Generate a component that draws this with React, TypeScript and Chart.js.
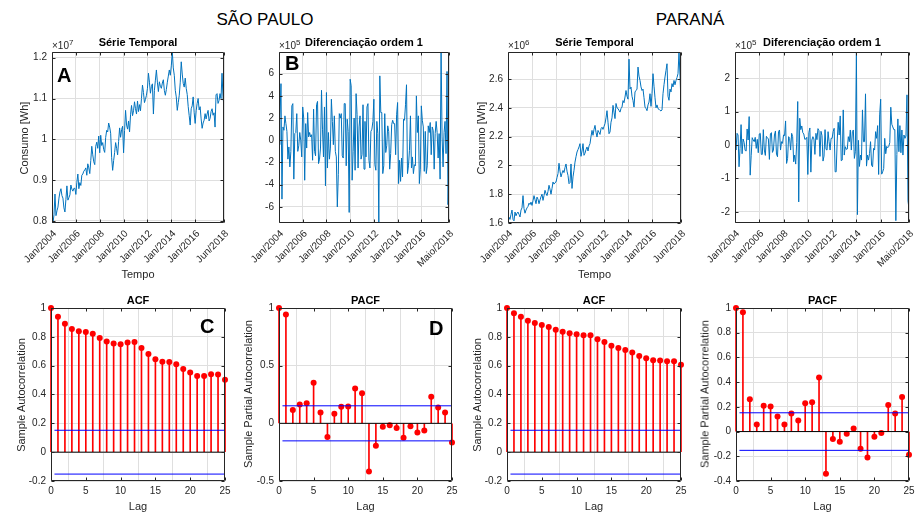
import React, { useEffect, useRef } from "react";
import { Chart, registerables } from "chart.js";

Chart.register(...registerables);

const FONT = "'Liberation Sans', Arial, Helvetica, sans-serif";
const INK = "#262626";
const GRID = "#DFDFDF";
const TS_BLUE = "#0072BD";
const STEM_RED = "#FF0000";
const BOUND_BLUE = "#0000FF";

// ---------------- DATA ----------------
// São Paulo monthly consumption, Jan/2004 .. Jun/2018, in units of 10^7 Wh
const spConsumo = [
  0.799, 0.795, 0.815, 0.866, 0.813, 0.825, 0.834, 0.856, 0.871, 0.879, 0.862, 0.856,
  0.832, 0.822, 0.853, 0.886, 0.851, 0.857, 0.864, 0.888, 0.878, 0.873, 0.880, 0.880,
  0.865, 0.895, 0.915, 0.879, 0.894, 0.887, 0.912, 0.915, 0.922, 0.925, 0.930, 0.912,
  0.940, 0.930, 0.916, 0.948, 0.983, 0.962, 0.945, 0.938, 0.983, 0.993, 0.978, 1.008,
  0.967, 1.010, 0.985, 0.992, 0.975, 0.968, 1.005, 1.022, 1.018, 1.040, 1.030, 1.015,
  0.955, 0.924, 0.948, 0.968, 0.992, 0.978, 0.962, 0.995, 1.028, 1.005, 1.024, 1.032,
  0.967, 1.022, 1.071, 1.035, 1.025, 1.045, 1.018, 1.060, 1.083, 1.058, 1.070, 1.092,
  1.075, 1.062, 1.094, 1.068, 1.085, 1.070, 1.100, 1.133, 1.115, 1.090, 1.098, 1.108,
  1.125, 1.162, 1.140, 1.113, 1.130, 1.136, 1.062, 1.120, 1.145, 1.170, 1.140, 1.117,
  1.141, 1.130, 1.125, 1.138, 1.146, 1.120, 1.108, 1.122, 1.140, 1.155, 1.170, 1.157,
  1.180, 1.214, 1.175, 1.157, 1.120, 1.104, 1.071, 1.090, 1.108, 1.140, 1.190, 1.160,
  1.137, 1.128, 1.150, 1.125, 1.110, 1.080, 1.058, 1.035, 1.075, 1.082, 1.104, 1.065,
  1.039, 1.070, 1.088, 1.100, 1.072, 1.080, 1.050, 1.027, 1.040, 1.047, 1.063, 1.050,
  1.062, 1.071, 1.045, 1.051, 1.068, 1.075, 1.059, 1.065, 1.030, 1.109, 1.112, 1.088,
  1.095, 1.112, 1.100, 1.162, 1.104, 1.080,
];

// Paraná monthly consumption, Jan/2004 .. Jun/2018, in units of 10^6 Wh
const prConsumo = [
  1.600, 1.640, 1.625, 1.660, 1.690, 1.625, 1.615, 1.676, 1.650, 1.668, 1.676, 1.660,
  1.642, 1.690, 1.705, 1.790, 1.700, 1.668, 1.690, 1.705, 1.715, 1.738, 1.728, 1.745,
  1.722, 1.755, 1.790, 1.762, 1.734, 1.780, 1.765, 1.734, 1.760, 1.782, 1.800, 1.757,
  1.790, 1.827, 1.805, 1.790, 1.820, 1.862, 1.835, 1.800, 1.840, 1.885, 1.870, 1.880,
  1.885, 1.915, 1.943, 2.015, 1.960, 1.920, 1.945, 1.965, 1.950, 1.985, 2.010, 1.960,
  1.930, 1.873, 1.880, 2.010, 1.840, 1.920, 1.966, 2.023, 2.060, 2.093, 2.110, 2.128,
  2.151, 2.063, 2.100, 2.151, 2.070, 2.085, 2.110, 2.128, 2.100, 2.135, 2.151, 2.200,
  2.243, 2.209, 2.250, 2.278, 2.230, 2.197, 2.243, 2.230, 2.215, 2.255, 2.265, 2.250,
  2.270, 2.290, 2.330, 2.380, 2.300, 2.220, 2.232, 2.300, 2.330, 2.417, 2.370, 2.325,
  2.430, 2.400, 2.395, 2.382, 2.370, 2.395, 2.405, 2.450, 2.435, 2.475, 2.520, 2.480,
  2.460, 2.738, 2.530, 2.544, 2.480, 2.450, 2.405, 2.510, 2.520, 2.530, 2.683, 2.620,
  2.590, 2.545, 2.520, 2.530, 2.470, 2.405, 2.395, 2.380, 2.420, 2.440, 2.498, 2.410,
  2.500, 2.637, 2.550, 2.470, 2.400, 2.420, 2.394, 2.390, 2.382, 2.378, 2.385, 2.498,
  2.560, 2.614, 2.660, 2.706, 2.480, 2.452, 2.530, 2.510, 2.568, 2.545, 2.590, 2.560,
  2.590, 2.610, 2.637, 2.787, 2.620, 2.429,
];

// first-order differences (units of 10^5 Wh), Jan/2004 .. Maio/2018
const spDiferenca = spConsumo.slice(1).map((v, i) => +((v - spConsumo[i]) * 100).toFixed(3));
const prDiferenca = prConsumo.slice(1).map((v, i) => +((v - prConsumo[i]) * 10).toFixed(3));

// sample ACF / PACF, lags 0..25
const spAcf = [1, 0.94, 0.891, 0.854, 0.838, 0.834, 0.822, 0.792, 0.767, 0.753, 0.748, 0.76, 0.764, 0.723, 0.681, 0.644, 0.628, 0.626, 0.61, 0.577, 0.552, 0.529, 0.529, 0.54, 0.538, 0.503];
const spPacf = [1, 0.943, 0.115, 0.164, 0.175, 0.351, 0.095, -0.118, 0.083, 0.144, 0.147, 0.302, 0.261, -0.417, -0.195, -0.029, -0.017, -0.04, -0.124, -0.026, -0.08, -0.063, 0.23, 0.138, 0.095, -0.167];
const prAcf = [1, 0.963, 0.94, 0.912, 0.896, 0.882, 0.868, 0.85, 0.836, 0.824, 0.818, 0.811, 0.811, 0.783, 0.764, 0.739, 0.723, 0.709, 0.691, 0.667, 0.651, 0.637, 0.635, 0.63, 0.63, 0.607];
const prPacf = [1, 0.965, 0.262, 0.058, 0.208, 0.203, 0.122, 0.058, 0.146, 0.09, 0.23, 0.238, 0.437, -0.341, -0.061, -0.082, -0.018, 0.025, -0.139, -0.209, -0.042, -0.012, 0.216, 0.146, 0.279, -0.187];
const confBound = [0.152, -0.152];

// tick positions / labels
const tempoTicks = [0, 24, 48, 72, 96, 120, 144, 173];
const tempoLabels = ["Jan/2004", "Jan/2006", "Jan/2008", "Jan/2010", "Jan/2012", "Jan/2014", "Jan/2016", "Jun/2018"];
const difTicks = [0, 24, 48, 72, 96, 120, 144, 172];
const difLabels = ["Jan/2004", "Jan/2006", "Jan/2008", "Jan/2010", "Jan/2012", "Jan/2014", "Jan/2016", "Maio/2018"];
const spLevelTicks = [0.8, 0.9, 1, 1.1, 1.2];
const spDifTicks = [-6, -4, -2, 0, 2, 4, 6];
const prLevelTicks = [1.6, 1.8, 2, 2.2, 2.4, 2.6];
const prDifTicks = [-2, -1, 0, 1, 2];
const acfTicks = [-0.2, 0, 0.2, 0.4, 0.6, 0.8, 1];
const spPacfTicks = [-0.5, 0, 0.5, 1];
const prPacfTicks = [-0.4, -0.2, 0, 0.2, 0.4, 0.6, 0.8, 1];
const lagTicks = [0, 5, 10, 15, 20, 25];

// ---------------- CHART HELPERS ----------------
const PAD_L = 50;
const PAD_R = 6;
const PAD_T = 6;

const fmt = (v: number) => String(Math.round(v * 100) / 100);

const matlabAxes = {
  id: "matlabAxes",
  afterDatasetsDraw(chart: any) {
    const { ctx, chartArea: a, scales } = chart;
    ctx.save();
    ctx.strokeStyle = INK;
    ctx.lineWidth = 1;
    const L = Math.round(a.left) + 0.5;
    const R = Math.round(a.right) - 0.5;
    const T = Math.round(a.top) + 0.5;
    const B = Math.round(a.bottom) - 0.5;
    ctx.beginPath();
    ctx.rect(L, T, R - L, B - T);
    const tl = 3;
    scales.x.ticks.forEach((t: any) => {
      const px = Math.round(scales.x.getPixelForValue(t.value)) + 0.5;
      ctx.moveTo(px, B);
      ctx.lineTo(px, B - tl);
      ctx.moveTo(px, T);
      ctx.lineTo(px, T + tl);
    });
    scales.y.ticks.forEach((t: any) => {
      const py = Math.round(scales.y.getPixelForValue(t.value)) + 0.5;
      ctx.moveTo(L, py);
      ctx.lineTo(L + tl, py);
      ctx.moveTo(R, py);
      ctx.lineTo(R - tl, py);
    });
    ctx.stroke();
    ctx.restore();
  },
};

type AxisSpec = { min: number; max: number; ticks: number[]; labels?: string[] };

function makeConfig(datasets: any[], x: AxisSpec, y: AxisSpec, padB: number, rotate: number, xPad: number, xOff: number) {
  const xLabel = (v: number) => (x.labels ? x.labels[x.ticks.indexOf(v)] ?? "" : fmt(v));
  return {
    type: "line",
    data: { datasets },
    plugins: [matlabAxes],
    options: {
      animation: false,
      responsive: false,
      devicePixelRatio: 1,
      events: [],
      layout: { padding: { left: 0, right: PAD_R, top: PAD_T, bottom: 0 } },
      plugins: { legend: { display: false }, title: { display: false }, tooltip: { enabled: false } },
      scales: {
        x: {
          type: "linear",
          min: x.min,
          max: x.max,
          offset: false,
          grid: { color: GRID, lineWidth: 1, drawTicks: false },
          border: { display: false },
          ticks: {
            autoSkip: false,
            minRotation: rotate,
            maxRotation: rotate,
            padding: xPad,
            labelOffset: xOff,
            color: INK,
            font: { family: FONT, size: 10 },
            callback: (v: any) => xLabel(Number(v)),
          },
          afterBuildTicks: (s: any) => {
            s.ticks = x.ticks.map((value) => ({ value }));
          },
          afterFit: (s: any) => {
            s.height = padB;
            s.paddingLeft = 0;
            s.paddingRight = 0;
          },
        },
        y: {
          type: "linear",
          min: y.min,
          max: y.max,
          grid: { color: GRID, lineWidth: 1, drawTicks: false },
          border: { display: false },
          ticks: {
            padding: 5,
            color: INK,
            font: { family: FONT, size: 10 },
            callback: (v: any) => fmt(Number(v)),
          },
          afterBuildTicks: (s: any) => {
            s.ticks = y.ticks.map((value) => ({ value }));
          },
          afterFit: (s: any) => {
            s.width = PAD_L;
            s.paddingTop = 0;
            s.paddingBottom = 0;
          },
        },
      },
    },
  };
}

function seriesSet(values: number[]) {
  return [
    {
      type: "line",
      data: values.map((v, i) => ({ x: i, y: v })),
      borderColor: TS_BLUE,
      borderWidth: 1,
      pointRadius: 0,
      tension: 0,
    },
  ];
}

function stemSet(values: number[]) {
  const pts = values.map((v, i) => ({ x: i, y: v }));
  const last = values.length - 1;
  return [
    { type: "line", data: [{ x: 0.5, y: confBound[0] }, { x: last, y: confBound[0] }], borderColor: BOUND_BLUE, borderWidth: 1, pointRadius: 0 },
    { type: "line", data: [{ x: 0.5, y: confBound[1] }, { x: last, y: confBound[1] }], borderColor: BOUND_BLUE, borderWidth: 1, pointRadius: 0 },
    { type: "line", data: [{ x: 0, y: 0 }, { x: last, y: 0 }], borderColor: "#000000", borderWidth: 1, pointRadius: 0 },
    {
      type: "line",
      data: pts,
      showLine: false,
      pointRadius: 3,
      pointBackgroundColor: STEM_RED,
      pointBorderColor: STEM_RED,
      pointBorderWidth: 0,
      clip: false,
    },
    { type: "bar", data: pts, backgroundColor: STEM_RED, barThickness: 1, borderWidth: 0, clip: false },
  ];
}

type PanelProps = { left: number; top: number; width: number; height: number; padB: number; build: () => any };

function ChartPanel({ left, top, width, height, padB, build }: PanelProps) {
  const ref = useRef<HTMLCanvasElement | null>(null);
  const W = width + PAD_L + PAD_R;
  const H = height + PAD_T + padB;
  useEffect(() => {
    if (!ref.current) return;
    const chart = new Chart(ref.current, build() as any);
    return () => chart.destroy();
  }, []);
  return (
    <canvas
      ref={ref}
      width={W}
      height={H}
      style={{ position: "absolute", left: left - PAD_L, top: top - PAD_T, width: W, height: H }}
    />
  );
}

function Txt({ x, y, text, size = 11, bold = false, rot = false, color = INK }: any) {
  return (
    <div
      style={{
        position: "absolute",
        left: x,
        top: y,
        transform: `translate(-50%, -50%)${rot ? " rotate(-90deg)" : ""}`,
        whiteSpace: "nowrap",
        fontSize: size,
        fontWeight: bold ? 700 : 400,
        lineHeight: 1,
        color,
      }}
    >
      {text}
    </div>
  );
}

function Expo({ x, n }: { x: number; n: string }) {
  return (
    <div style={{ position: "absolute", left: x, top: 40.5, fontSize: 10, lineHeight: "10px", color: INK, whiteSpace: "nowrap" }}>
      {"\u00D710"}
      <span style={{ fontSize: 8, position: "relative", top: -3.5 }}>{n}</span>
    </div>
  );
}

function Letter({ x, y, t }: { x: number; y: number; t: string }) {
  return (
    <div style={{ position: "absolute", left: x, top: y, fontSize: 20, fontWeight: 700, lineHeight: 1, color: "#000" }}>{t}</div>
  );
}

export default function App() {
  const TOP_Y = 52;
  const TOP_H = 171;
  const BOT_Y = 308;
  const BOT_H = 173;
  const TOP_PADB = 56;
  const BOT_PADB = 22;

  const panels: PanelProps[] = [
    {
      left: 52, top: TOP_Y, width: 172, height: TOP_H, padB: TOP_PADB,
      build: () => makeConfig(seriesSet(spConsumo), { min: 0, max: 173, ticks: tempoTicks, labels: tempoLabels }, { min: 0.795, max: 1.214, ticks: spLevelTicks }, TOP_PADB, 45, 5, 3),
    },
    {
      left: 279, top: TOP_Y, width: 170, height: TOP_H, padB: TOP_PADB,
      build: () => makeConfig(seriesSet(spDiferenca), { min: 0, max: 172, ticks: difTicks, labels: difLabels }, { min: -7.45, max: 7.95, ticks: spDifTicks }, TOP_PADB, 45, 5, 3),
    },
    {
      left: 508, top: TOP_Y, width: 173, height: TOP_H, padB: TOP_PADB,
      build: () => makeConfig(seriesSet(prConsumo), { min: 0, max: 173, ticks: tempoTicks, labels: tempoLabels }, { min: 1.6, max: 2.7875, ticks: prLevelTicks }, TOP_PADB, 45, 5, 3),
    },
    {
      left: 735, top: TOP_Y, width: 174, height: TOP_H, padB: TOP_PADB,
      build: () => makeConfig(seriesSet(prDiferenca), { min: 0, max: 172, ticks: difTicks, labels: difLabels }, { min: -2.33, max: 2.78, ticks: prDifTicks }, TOP_PADB, 45, 5, 3),
    },
    {
      left: 51, top: BOT_Y, width: 174, height: BOT_H, padB: BOT_PADB,
      build: () => makeConfig(stemSet(spAcf), { min: 0, max: 25, ticks: lagTicks }, { min: -0.2, max: 1, ticks: acfTicks }, BOT_PADB, 0, 4, 0),
    },
    {
      left: 279, top: BOT_Y, width: 173, height: BOT_H, padB: BOT_PADB,
      build: () => makeConfig(stemSet(spPacf), { min: 0, max: 25, ticks: lagTicks }, { min: -0.5, max: 1, ticks: spPacfTicks }, BOT_PADB, 0, 4, 0),
    },
    {
      left: 507, top: BOT_Y, width: 174, height: BOT_H, padB: BOT_PADB,
      build: () => makeConfig(stemSet(prAcf), { min: 0, max: 25, ticks: lagTicks }, { min: -0.2, max: 1, ticks: acfTicks }, BOT_PADB, 0, 4, 0),
    },
    {
      left: 736, top: BOT_Y, width: 173, height: BOT_H, padB: BOT_PADB,
      build: () => makeConfig(stemSet(prPacf), { min: 0, max: 25, ticks: lagTicks }, { min: -0.4, max: 1, ticks: prPacfTicks }, BOT_PADB, 0, 4, 0),
    },
  ];

  return (
    <div
      style={{
        position: "fixed",
        left: 0,
        top: 0,
        width: 917,
        height: 512,
        background: "#ffffff",
        overflow: "hidden",
        fontFamily: FONT,
      }}
    >
      {panels.map((p, i) => (
        <ChartPanel key={i} {...p} />
      ))}

      <Txt x={265} y={19} text="SÃO PAULO" size={17} color="#000" />
      <Txt x={690} y={19} text="PARANÁ" size={17} color="#000" />

      <Txt x={138} y={42.2} text="Série Temporal" bold color="#000" />
      <Txt x={364} y={42.2} text="Diferenciação ordem 1" bold color="#000" />
      <Txt x={594.5} y={42.2} text="Série Temporal" bold color="#000" />
      <Txt x={822} y={42.2} text="Diferenciação ordem 1" bold color="#000" />

      <Txt x={138} y={299.5} text="ACF" bold color="#000" />
      <Txt x={365.5} y={299.5} text="PACF" bold color="#000" />
      <Txt x={594} y={299.5} text="ACF" bold color="#000" />
      <Txt x={822.5} y={299.5} text="PACF" bold color="#000" />

      <Expo x={52} n="7" />
      <Expo x={279} n="5" />
      <Expo x={508} n="6" />
      <Expo x={735} n="5" />

      <Txt x={23.5} y={137.5} text="Consumo [Wh]" rot />
      <Txt x={481} y={137.5} text="Consumo [Wh]" rot />
      <Txt x={138} y={274} text="Tempo" />
      <Txt x={594.5} y={274} text="Tempo" />

      <Txt x={20.5} y={395} text="Sample Autocorrelation" rot />
      <Txt x={248} y={394} text="Sample Partial Autocorrelation" rot />
      <Txt x={477} y={395} text="Sample Autocorrelation" rot />
      <Txt x={705} y={394} text="Sample Partial Autocorrelation" rot />

      <Txt x={138} y={506} text="Lag" />
      <Txt x={365.5} y={506} text="Lag" />
      <Txt x={594} y={506} text="Lag" />
      <Txt x={822.5} y={506} text="Lag" />

      <Letter x={57} y={64.5} t="A" />
      <Letter x={285} y={52.5} t="B" />
      <Letter x={200} y={315.5} t="C" />
      <Letter x={429} y={317.5} t="D" />
    </div>
  );
}
